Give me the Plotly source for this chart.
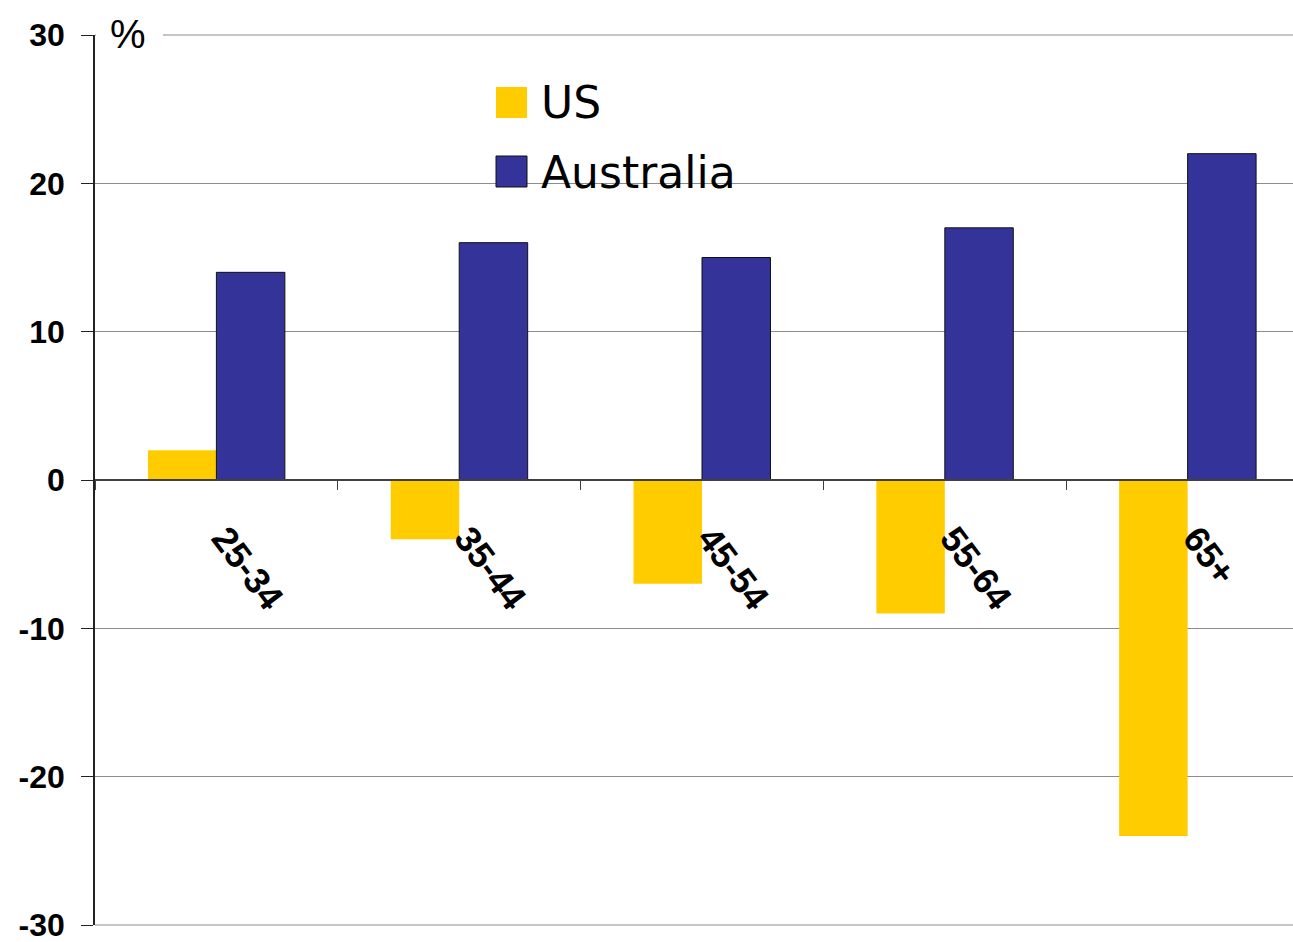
import plotly.graph_objects as go

categories = ["25-34", "35-44", "45-54", "55-64", "65+"]
us_values = [2, -4, -7, -9, -24]
australia_values = [14, 16, 15, 17, 22]
series_names = ["US", "Australia"]
y_ticks = [-30, -20, -10, 0, 10, 20, 30]
y_tick_labels = ["-30", "-20", "-10", "0", "10", "20", "30"]

US_COLOR = "#FFCC00"
AUS_COLOR = "#333399"
GRID = "#8c8c8c"

# plot area in pixels, used to place the hand-drawn legend
L, R, T, B = 95, 1293, 35, 925


def px(x):
    return (x - L) / (R - L)


def py(y):
    return (B - y) / (B - T)


fig = go.Figure()
fig.add_trace(go.Bar(x=categories, y=us_values, name=series_names[0],
                     marker=dict(color=US_COLOR, line=dict(width=0))))
fig.add_trace(go.Bar(x=categories, y=australia_values, name=series_names[1],
                     marker=dict(color=AUS_COLOR, line=dict(color="#111111", width=1))))

shapes = [
    # plotly drops gridlines sitting on the plot edges, so draw those two
    dict(type="line", xref="paper", yref="paper", x0=0, x1=1, y0=1, y1=1,
         line=dict(color=GRID, width=1), layer="below"),
    dict(type="line", xref="paper", yref="paper", x0=0, x1=1, y0=0, y1=0,
         line=dict(color=GRID, width=1), layer="below"),
    # white box behind the % sign and behind the legend
    dict(type="rect", xref="paper", yref="paper", x0=px(96), x1=px(163), y0=py(45), y1=py(25),
         fillcolor="white", line=dict(width=0), layer="between"),
    dict(type="rect", xref="paper", yref="paper", x0=px(480), x1=px(746), y0=py(200), y1=py(70),
         fillcolor="white", line=dict(width=0), layer="between"),
    dict(type="rect", xref="paper", yref="paper", x0=px(496), x1=px(527), y0=py(118), y1=py(87),
         fillcolor=US_COLOR, line=dict(width=0)),
    dict(type="rect", xref="paper", yref="paper", x0=px(496), x1=px(527), y0=py(187), y1=py(156),
         fillcolor=AUS_COLOR, line=dict(color="#111111", width=1)),
]

annotations = [
    dict(text="%", xref="paper", yref="paper", x=px(128), y=py(34), showarrow=False,
         xanchor="center", yanchor="middle", font=dict(family="Liberation Sans", size=40, color="black")),
    dict(text=series_names[0], xref="paper", yref="paper", x=px(539), y=py(102), showarrow=False,
         xanchor="left", yanchor="middle", font=dict(family="DejaVu Sans", size=44, color="black")),
    dict(text=series_names[1], xref="paper", yref="paper", x=px(539), y=py(172), showarrow=False,
         xanchor="left", yanchor="middle", font=dict(family="DejaVu Sans", size=44, color="black")),
]

fig.update_layout(
    width=1293,
    height=942,
    margin=dict(l=L, r=1293 - R, t=T, b=942 - B),
    paper_bgcolor="white",
    plot_bgcolor="white",
    showlegend=False,
    barmode="group",
    bargap=0.436,
    bargroupgap=0,
    shapes=shapes,
    annotations=annotations,
    xaxis=dict(
        range=[-0.5, 4.434],
        anchor="free",
        position=0.5,
        showline=True,
        linecolor="#404040",
        linewidth=1.5,
        ticks="outside",
        tickson="boundaries",
        ticklen=9,
        tickcolor="#404040",
        tickangle=53,
        ticklabelstandoff=22,
        ticklabelshift=8,
        showgrid=False,
        tickfont=dict(family="Liberation Sans", size=36, color="black", weight="bold"),
    ),
    yaxis=dict(
        range=[-30, 30],
        tickvals=y_ticks,
        ticktext=y_tick_labels,
        showline=True,
        linecolor="#222222",
        linewidth=1.5,
        ticks="outside",
        ticklen=12,
        tickcolor="#222222",
        ticklabelstandoff=10,
        ticklabeloverflow="allow",
        showgrid=True,
        gridcolor=GRID,
        gridwidth=1,
        zeroline=False,
        tickfont=dict(family="Liberation Sans", size=32, color="black", weight="bold"),
    ),
)

fig.write_html("out.html", config={"displayModeBar": False},
               post_script="document.body.style.margin = '0';")
